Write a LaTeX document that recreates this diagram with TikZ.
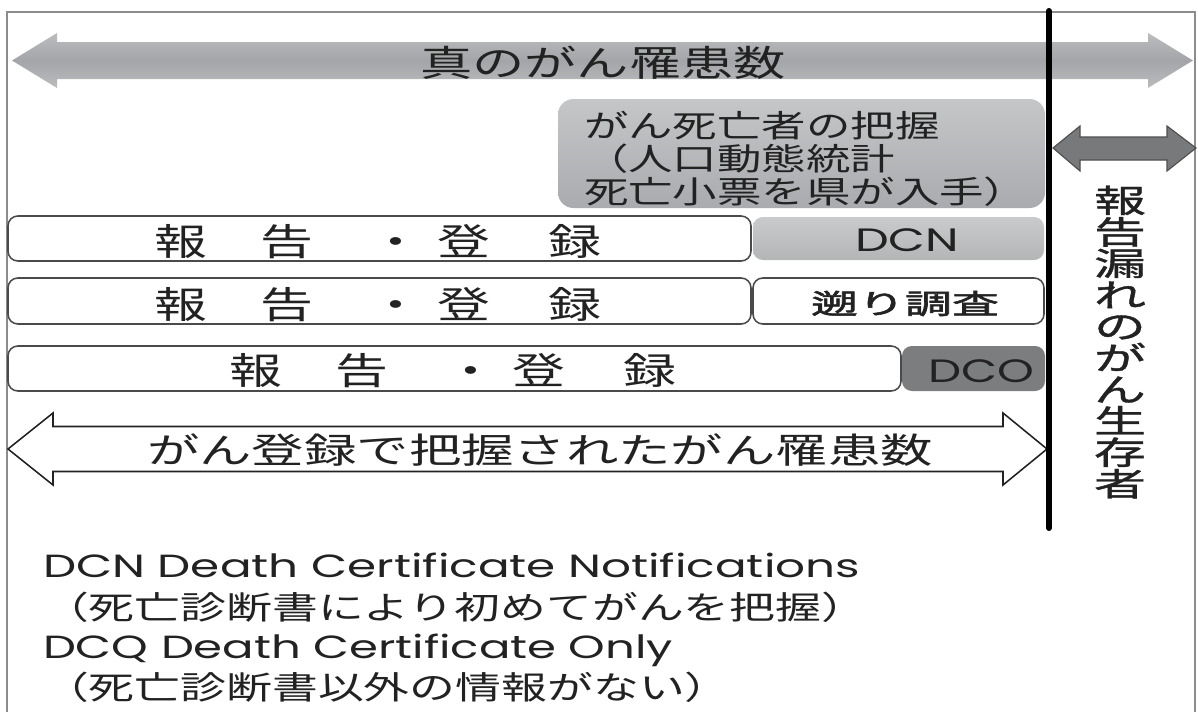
\documentclass[tikz,border=0pt]{standalone}
\usepackage{fontspec}
\setmainfont{Noto Sans CJK JP}
\newfontfamily\jp[FakeStretch=1.43]{Noto Sans CJK JP}
\newfontfamily\jpv[FakeStretch=1.62,FakeBold=1.2]{Noto Sans CJK JP}
\newfontfamily\jpb[FakeStretch=1.43,FakeBold=2]{Noto Sans CJK JP}
\newfontfamily\lat{Poppins}
\newlength\pxl \setlength\pxl{0.025cm}
\newcommand\fitw[2]{\resizebox{#1\pxl}{\height}{#2}}
\newcommand\fs[2]{\fontsize{#1pt}{#2pt}\selectfont}
\definecolor{framec}{HTML}{8C8C8C}
\definecolor{arrA}{HTML}{BABCBE}
\definecolor{arrB}{HTML}{A3A5A8}
\definecolor{boxA}{HTML}{C4C6C8}
\definecolor{boxB}{HTML}{A9ABAE}
\definecolor{dcnA}{HTML}{C8CACC}
\definecolor{dcnB}{HTML}{B3B5B7}
\definecolor{dcoc}{HTML}{7C7D7F}
\definecolor{darr}{HTML}{78797B}
\definecolor{darrline}{HTML}{4E4E4E}
\definecolor{rowline}{HTML}{4A4A4A}
\definecolor{inkc}{HTML}{222222}
\begin{document}
\begin{tikzpicture}[x=0.025cm,y=-0.025cm,
  txt/.style={inner sep=0pt,outer sep=0pt,text=inkc},
  rowbox/.style={draw=rowline,line width=1.1pt,rounded corners=7pt,fill=white}]
\useasboundingbox (0,0) rectangle (1198,711);
% frame
\draw[framec,line width=1.4pt] (7,715) -- (7,12) -- (1195,12) -- (1195,715);
% top grey double arrow
\shade[top color=arrA,bottom color=arrA,middle color=arrB]
  (12,60.5) -- (57,33) -- (57,42) -- (1148,42) -- (1148,33) -- (1193,60.5)
  -- (1148,88) -- (1148,79) -- (57,79) -- (57,88) -- cycle;
\node[txt,font=\jp\fs{25.6}{30}] (true) at (603,62.5) {\fitw{366}{真のがん罹患数}};
% grey box
\shade[rounded corners=11pt,top color=boxA,bottom color=boxB] (558,99) rectangle (1045,208);
\node[txt,anchor=west,align=left,font=\jp\fs{22.1}{23.5}] (death) at (584,158.5)
  {がん死亡者の把握\\（人口動態統計\\死亡小票を県が入手）};
% right dark double arrow
\filldraw[fill=darr,draw=darrline,line width=0.8pt]
  (1053,148) -- (1080,126) -- (1080,137) -- (1167,137) -- (1167,126) -- (1196,148)
  -- (1167,171) -- (1167,160) -- (1080,160) -- (1080,171) -- cycle;
\node[txt,font=\jpv\fs{22.8}{22.4},align=center] (miss) at (1120,342)
  {報\\告\\漏\\れ\\の\\が\\ん\\生\\存\\者};
% rows
\draw[rowbox] (8,216) rectangle (751,261);
\shade[rounded corners=7pt,top color=dcnA,bottom color=dcnB] (753,217) rectangle (1044,260);
\draw[rowbox] (8,278) rectangle (751,324);
\draw[rowbox] (753,278) rectangle (1044,324);
\draw[rowbox] (8,346) rectangle (901,391);
\fill[dcoc,rounded corners=7pt] (902,346) rectangle (1045,391);
\node[txt,font=\jp\fs{26.3}{30}] (reg1) at (378,242)
  {報\kern53\pxl 告\kern56.5\pxl ・\kern15.5\pxl 登\kern58\pxl 録};
\node[txt,font=\jp\fs{26.3}{30}] (reg2) at (378,304.5)
  {報\kern53\pxl 告\kern56.5\pxl ・\kern15.5\pxl 登\kern58\pxl 録};
\node[txt,font=\jp\fs{26.3}{30}] (reg3) at (453,371)
  {報\kern53\pxl 告\kern56.5\pxl ・\kern15.5\pxl 登\kern58\pxl 録};
\node[txt,font=\lat\fs{23}{27}] (dcn) at (907,240) {\fitw{104}{DCN}};
\node[txt,font=\jpb\fs{19.5}{22}] (retro) at (905,303.5) {\fitw{188}{遡り調査}};
\node[txt,font=\lat\fs{23}{27}] (dco) at (981,371) {\fitw{106}{DCO}};
% bottom outline double arrow
\draw[fill=white,draw=inkc,line width=1.1pt]
  (8,449) -- (53,413) -- (53,426.5) -- (1003,426.5) -- (1003,413) -- (1047,449)
  -- (1003,485) -- (1003,471.5) -- (53,471.5) -- (53,485) -- cycle;
\node[txt,font=\jp\fs{25}{30}] (reg) at (540,450) {\fitw{786}{がん登録で把握されたがん罹患数}};
% vertical black line
\draw[black,line width=4.3pt,line cap=round] (1049,11) -- (1049,528);
% legend
\node[txt,anchor=base west,font=\lat\fs{22.8}{27}] (l1) at (43,577) {\fitw{817}{DCN Death Certificate Notifications}};
\node[txt,anchor=base west,font=\jp\fs{22.8}{27}] (l2) at (43,619) {（死亡診断書により初めてがんを把握）};
\node[txt,anchor=base west,font=\lat\fs{22.8}{27}] (l3) at (43,658) {\fitw{630}{DCQ Death Certificate Only}};
\node[txt,anchor=base west,font=\jp\fs{22.8}{27}] (l4) at (43,699) {（死亡診断書以外の情報がない）};
\end{tikzpicture}
\end{document}
